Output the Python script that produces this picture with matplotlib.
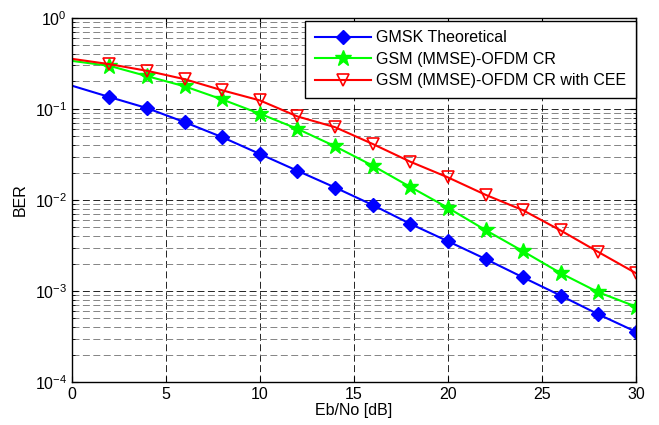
import matplotlib
matplotlib.use("Agg")
import matplotlib.pyplot as plt
from matplotlib.ticker import LogLocator, NullFormatter
import numpy as np

plt.rcParams['font.family'] = ['Liberation Sans', 'DejaVu Sans']
plt.rcParams['lines.scale_dashes'] = False

ebno = [0, 2, 4, 6, 8, 10, 12, 14, 16, 18, 20, 22, 24, 26, 28, 30]
gmsk_theory = [0.18, 0.135, 0.102, 0.0715, 0.0489, 0.032, 0.0209, 0.0137,
               0.0088, 0.00547, 0.00352, 0.00225, 0.00141, 0.00089, 0.000555, 0.000357]
gsm_ofdm_cr = [0.337, 0.297, 0.229, 0.177, 0.127, 0.0885, 0.0604, 0.0388,
               0.0238, 0.0139, 0.0082, 0.00467, 0.00273, 0.00157, 0.00097, 0.000674]
gsm_ofdm_cr_cee = [0.355, 0.31, 0.262, 0.212, 0.16, 0.124, 0.0826, 0.063,
                   0.0412, 0.0263, 0.0177, 0.0114, 0.0077, 0.00462, 0.00268, 0.00157]

FS = 11.5

fig = plt.figure(figsize=(6.59, 4.25), dpi=100)
ax = fig.add_axes([0.109, 0.101, 0.856, 0.857])

ax.semilogy(ebno, gmsk_theory, color='#0000ff', lw=1.5, marker='D', ms=7.5,
            markevery=slice(1, None), label='GMSK Theoretical')
ax.semilogy(ebno, gsm_ofdm_cr, color='#00ff00', lw=1.5, marker='*', ms=12,
            markevery=slice(1, None), label='GSM (MMSE)-OFDM CR')
ax.semilogy(ebno, gsm_ofdm_cr_cee, color='#ff0000', lw=1.5, marker='v', ms=8.5,
            mfc='none', mew=1.2, markevery=slice(1, None),
            label='GSM (MMSE)-OFDM CR with CEE')

ax.set_xlim(0, 30)
ax.set_ylim(1e-4, 1e0)
ax.set_xticks(range(0, 31, 5))
ax.yaxis.set_major_locator(LogLocator(base=10, numticks=10))
ax.yaxis.set_minor_locator(LogLocator(base=10, subs=np.arange(2, 10), numticks=10))
ax.yaxis.set_minor_formatter(NullFormatter())

ax.grid(True, which='major', color='black', linestyle=(0, (5, 2.5)), lw=0.6)
ax.grid(True, which='minor', axis='y', color='#707070', linestyle=(0, (5, 2.5)), lw=0.6)
ax.tick_params(which='both', direction='in', top=True, right=True, labelsize=FS)
ax.tick_params(which='major', length=4)
ax.tick_params(which='minor', length=2.5)
for s in ax.spines.values():
    s.set_linewidth(1.0)

ax.set_xlabel('Eb/No [dB]', fontsize=FS, labelpad=1)
ax.set_ylabel('BER', fontsize=FS, labelpad=5)

leg = ax.legend(loc='upper right', bbox_to_anchor=(1.0, 1 - 3 / 364), fontsize=FS,
                fancybox=False, framealpha=1, edgecolor='black', borderaxespad=0,
                handlelength=3.5, handletextpad=0.35, labelspacing=0.4,
                borderpad=0.6)
leg.get_frame().set_linewidth(1.0)

fig.savefig('out.png', dpi=100)
